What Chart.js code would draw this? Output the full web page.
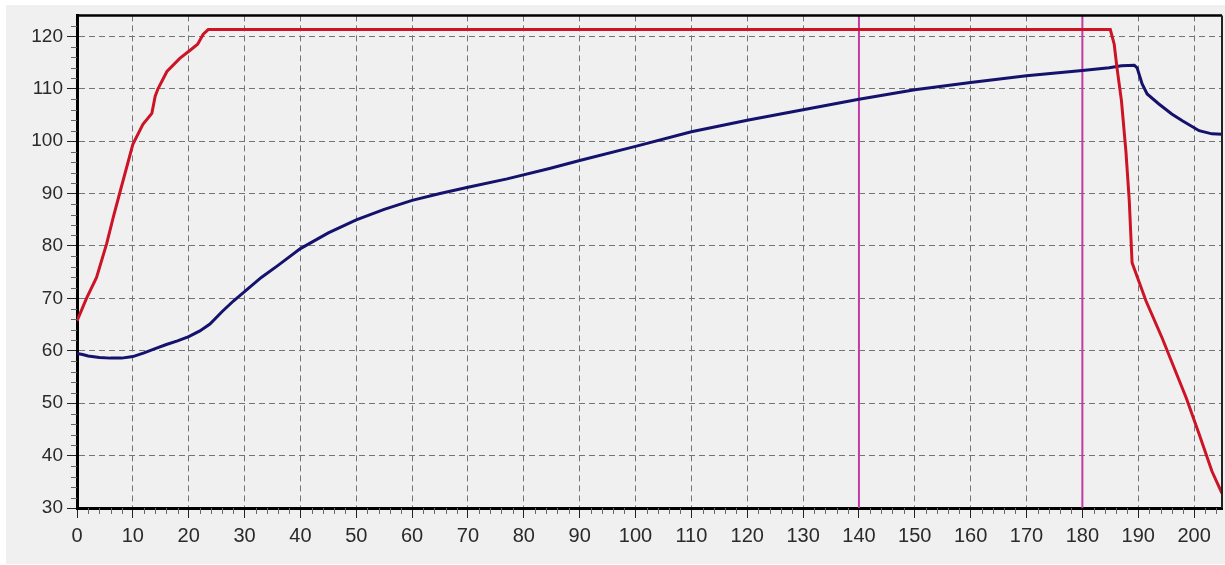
<!DOCTYPE html>
<html><head><meta charset="utf-8">
<script src="https://cdn.jsdelivr.net/npm/chart.js@4.4.1/dist/chart.umd.min.js"></script>
<style>html,body{margin:0;padding:0;background:#fff;} #wrap{width:1225px;height:565px;position:relative;}</style>
</head><body><div id="wrap"><canvas id="c"></canvas></div>
<script>
// ---- data ----
const xTickLabels = [0,10,20,30,40,50,60,70,80,90,100,110,120,130,140,150,160,170,180,190,200];
const yTickLabels = [30,40,50,60,70,80,90,100,110,120];
const xMin = 0, xMax = 205, yMin = 30, yMax = 124;

const redX = [0,1.7,3.5,5.3,6.5,7.7,10,11.8,13.4,14,14.5,16.1,18.4,20.2,21.6,22.6,23.5,185,185.7,186.2,187,187.8,188.4,188.9,191.4,194.3,198.6,200.9,203.2,205];
const redY = [65.7,70,74,80.4,85.5,90.3,99.4,103.2,105.3,108.6,110,113.3,115.8,117.3,118.5,120.4,121.3,121.3,118.5,114,107.7,98,88.6,76.8,69.5,62.4,51,44.1,37,32.8];

const blueX = [0,1,2,4,6,8,10,12,14,16,18,20,22,23.8,26,28,30,33,36,40,45,50,55,60,65,70,77,84.6,90,100,110,120,130,140,150,160,170,180,184.8,187,189.3,189.8,190.7,191.6,193.7,196,197.9,200.9,203.2,205];
const blueY = [59.5,59.3,59,58.7,58.6,58.6,58.9,59.6,60.4,61.2,61.9,62.7,63.8,65.1,67.5,69.5,71.3,74,76.3,79.5,82.5,85,87,88.7,90,91.2,92.8,94.8,96.3,99,101.8,104,106,108,109.8,111.2,112.5,113.5,114,114.4,114.5,114,110.9,109,107.1,105.2,103.9,102,101.4,101.3];

const markerX = [140, 180];

// ---- build ----
const toPts = (xs, ys) => xs.map((x, i) => ({x, y: ys[i]}));
const datasets = [
  {data: toPts(redX, redY), borderColor: '#cc1426', borderWidth: 3},
  {data: toPts(blueX, blueY), borderColor: '#14126c', borderWidth: 3},
  ...markerX.map(m => ({data: [{x: m, y: yMin}, {x: m, y: yMax}], borderColor: '#c23aa6', borderWidth: 2}))
];

const framePlugin = {
  id: 'frame',
  beforeDraw(chart) {
    const ctx = chart.ctx;
    ctx.save();
    ctx.fillStyle = '#ffffff';
    ctx.fillRect(0, 0, chart.width, chart.height);
    ctx.fillStyle = '#f0f0f0';
    ctx.fillRect(6, 5, chart.width - 6, 559);
    ctx.restore();
  },
  afterDraw(chart) {
    const ctx = chart.ctx, a = chart.chartArea;
    const xs = chart.scales.x, ys = chart.scales.y;
    ctx.save();
    // minor ticks (outside the axes)
    ctx.strokeStyle = '#666';
    ctx.lineWidth = 1;
    ctx.beginPath();
    for (let v = xMin + 2; v < xMax; v += 2) {
      if (v % 10 === 0) continue;
      const px = Math.round(xs.getPixelForValue(v)) + 0.5;
      ctx.moveTo(px, a.bottom);
      ctx.lineTo(px, a.bottom + 6);
    }
    for (let v = yMin + 2; v < yMax; v += 2) {
      if (v % 10 === 0) continue;
      const py = Math.round(ys.getPixelForValue(v)) + 0.5;
      ctx.moveTo(a.left - 6, py);
      ctx.lineTo(a.left, py);
    }
    ctx.stroke();
    // top and right frame
    ctx.strokeStyle = '#000';
    ctx.lineWidth = 2.5;
    ctx.beginPath();
    ctx.moveTo(a.left, a.top);
    ctx.lineTo(a.right, a.top);
    ctx.stroke();
    ctx.strokeStyle = '#222';
    ctx.lineWidth = 2;
    ctx.beginPath();
    ctx.moveTo(a.right, a.top);
    ctx.lineTo(a.right, a.bottom);
    ctx.stroke();
    ctx.restore();
  }
};

const fontY = {family: '"Liberation Sans", Arial, sans-serif', size: 19};
const fontX = {family: '"Liberation Sans", Arial, sans-serif', size: 20};

new Chart(document.getElementById('c'), {
  type: 'line',
  data: {datasets},
  options: {
    responsive: true,
    maintainAspectRatio: false,
    animation: false,
    events: [],
    layout: {padding: {left: 0, top: 14, right: 3, bottom: 0}},
    elements: {point: {radius: 0}, line: {tension: 0, fill: false}},
    plugins: {legend: {display: false}, tooltip: {enabled: false}},
    scales: {
      x: {
        type: 'linear', min: xMin, max: xMax,
        afterBuildTicks: s => { s.ticks = xTickLabels.map(v => ({value: v})); },
        afterFit: s => { s.height = 57; },
        ticks: {color: '#2a2a2a', font: fontX, padding: 6, maxRotation: 0, autoSkip: false},
        grid: {color: '#747474', lineWidth: 1, tickLength: 10, tickColor: '#222', tickWidth: 1},
        border: {color: '#000', width: 3, dash: [6, 4]}
      },
      y: {
        type: 'linear', min: yMin, max: yMax,
        afterBuildTicks: s => { s.ticks = yTickLabels.map(v => ({value: v})); },
        afterFit: s => { s.width = 77; },
        ticks: {color: '#2a2a2a', font: fontY, padding: 4, autoSkip: false},
        grid: {color: '#747474', lineWidth: 1, tickLength: 10, tickColor: '#222', tickWidth: 1},
        border: {color: '#000', width: 3, dash: [6, 4]}
      }
    }
  },
  plugins: [framePlugin]
});
</script>
</body></html>
